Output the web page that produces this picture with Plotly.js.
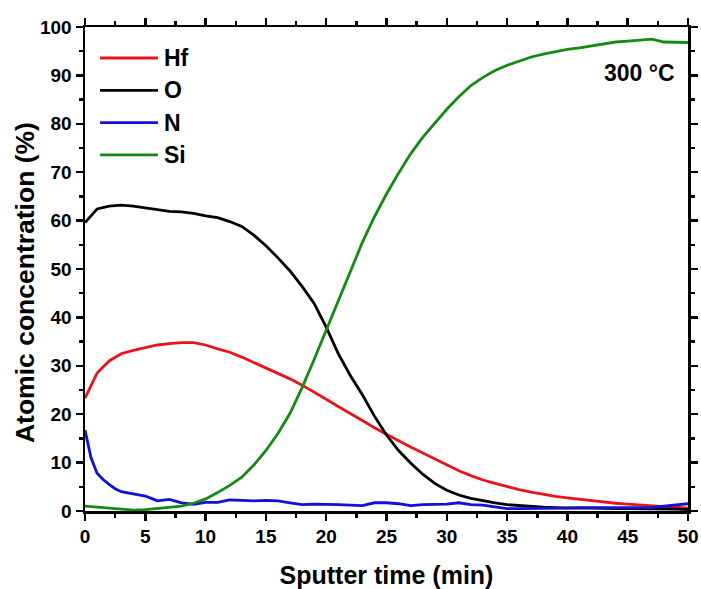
<!DOCTYPE html>
<html>
<head>
<meta charset="utf-8">
<script src="https://cdn.plot.ly/plotly-3.0.1.min.js"></script>
<style>html,body{margin:0;padding:0;background:#fff;}#chart{width:701px;height:589px;}</style>
</head>
<body>
<div id="chart"></div>
<script>
const time = [0,1,2,3,4,5,6,7,8,9,10,11,12,13,14,15,16,17,18,19,20,21,22,23,24,25,26,27,28,29,30,31,32,33,34,35,36,37,38,39,40,41,42,43,44,45,46,47,48,49,50];
const hf = [23.3,28.5,31.0,32.5,33.2,33.7,34.3,34.6,34.8,34.8,34.3,33.5,32.8,31.8,30.7,29.6,28.5,27.3,26.0,24.6,23.1,21.6,20.2,18.7,17.2,15.8,14.5,13.2,12.0,10.8,9.6,8.3,7.3,6.4,5.7,5.0,4.4,3.9,3.4,3.0,2.7,2.4,2.1,1.8,1.6,1.4,1.2,1.0,0.9,0.8,0.6];
const oxy = [59.6,62.4,63.0,63.2,63.0,62.6,62.3,61.9,61.8,61.5,61.0,60.6,59.8,58.8,57.0,54.8,52.3,49.6,46.4,42.9,38.0,32.5,28.0,24.0,19.6,15.7,12.5,9.9,7.6,5.7,4.3,3.3,2.6,2.1,1.7,1.3,1.1,0.9,0.8,0.7,0.6,0.6,0.6,0.5,0.5,0.5,0.5,0.4,0.4,0.4,0.3];
const si = [1.0,0.8,0.5,0.3,0.2,0.3,0.5,0.7,1.0,1.6,2.5,3.8,5.3,7.0,9.5,12.5,16.0,20.2,25.5,31.3,37.4,43.3,49.3,55.5,60.8,65.5,69.8,73.8,77.2,80.2,83.0,85.6,87.9,89.6,91.0,92.1,93.0,93.8,94.4,94.9,95.4,95.7,96.1,96.6,96.9,97.1,97.3,97.5,96.9,96.8,96.8];
const nTime = [0,0.5,1,1.5,2,2.5,3,4,5,5.5,6,7,8,9,10,11,12,13,14,15,16,17,18,19,20,21,22,23,24,25,26,27,28,29,30,31,32,33,34,35,36,37,38,39,40,41,42,43,44,45,46,47,48,49,50];
const nit = [16.7,11.0,7.8,6.5,5.5,4.6,4.0,3.6,3.1,2.6,2.1,2.4,1.7,1.4,1.8,1.8,2.3,2.2,2.1,2.2,2.1,1.7,1.3,1.4,1.4,1.3,1.2,1.1,1.7,1.7,1.5,1.1,1.3,1.4,1.4,1.7,1.3,1.2,0.8,0.5,0.5,0.5,0.5,0.6,0.6,0.7,0.7,0.7,0.6,0.6,0.6,0.7,1.0,1.3,1.5];
const names = ['Hf','O','N','Si'];
const colors = ['#e8141c','#000000','#1010d8','#138a13'];

const series = [[time,hf],[time,oxy],[nTime,nit],[time,si]];
const traces = series.map((s,i)=>({
  x:s[0], y:s[1], name:names[i], type:'scatter', mode:'lines',
  line:{color:colors[i], width:2.8}, showlegend:false
}));

const fontFam = 'Liberation Sans, Arial, sans-serif';
const axisCommon = {
  showline:true, linewidth:2.5, linecolor:'#000', mirror:'allticks',
  ticks:'outside', ticklen:7, tickwidth:2.5, tickcolor:'#000',
  showgrid:false, zeroline:false,
  tickfont:{family:fontFam, size:19, color:'#000', weight:'bold'},
  minor:{ticks:'outside', ticklen:4, tickwidth:2.5, tickcolor:'#000', showgrid:false}
};

// manual legend (paper coordinates)
const legY0 = 0.936, legStep = 0.0668;
const shapes = [], annotations = [];
names.forEach((n,i)=>{
  const yy = legY0 - i*legStep;
  shapes.push({type:'line', xref:'paper', yref:'paper', x0:0.025, x1:0.121, y0:yy, y1:yy,
    line:{color:colors[i], width:2.8}});
  annotations.push({text:n, xref:'paper', yref:'paper', x:0.128, y:yy, xanchor:'left', yanchor:'middle',
    showarrow:false, font:{family:fontFam, size:23, color:'#000', weight:'bold'}});
});
annotations.push({text:'300 °C', xref:'paper', yref:'paper', x:0.982, y:0.905, xanchor:'right', yanchor:'middle',
  showarrow:false, font:{family:fontFam, size:23, color:'#000', weight:'bold'}});
annotations.push({text:'Atomic concentration (%)', xref:'paper', yref:'paper', x:-0.0995, y:0.471,
  xanchor:'center', yanchor:'middle', textangle:-90, showarrow:false,
  font:{family:fontFam, size:26.5, color:'#000', weight:'bold'}});

const layout = {
  width:701, height:589,
  margin:{l:85, r:13, t:27, b:78},
  paper_bgcolor:'#fff', plot_bgcolor:'#fff',
  xaxis:Object.assign({}, axisCommon, {
    range:[0,50], dtick:5, tick0:0,
    minor:Object.assign({}, axisCommon.minor, {dtick:2.5}),
    title:{text:'Sputter time (min)', font:{family:fontFam, size:25, color:'#000', weight:'bold'}, standoff:20}
  }),
  yaxis:Object.assign({}, axisCommon, {
    range:[0,100], dtick:10, tick0:0,
    minor:Object.assign({}, axisCommon.minor, {dtick:5})
  }),
  showlegend:false,
  shapes:shapes,
  annotations:annotations
};

Plotly.newPlot('chart', traces, layout, {displayModeBar:false, staticPlot:true});
</script>
</body>
</html>
